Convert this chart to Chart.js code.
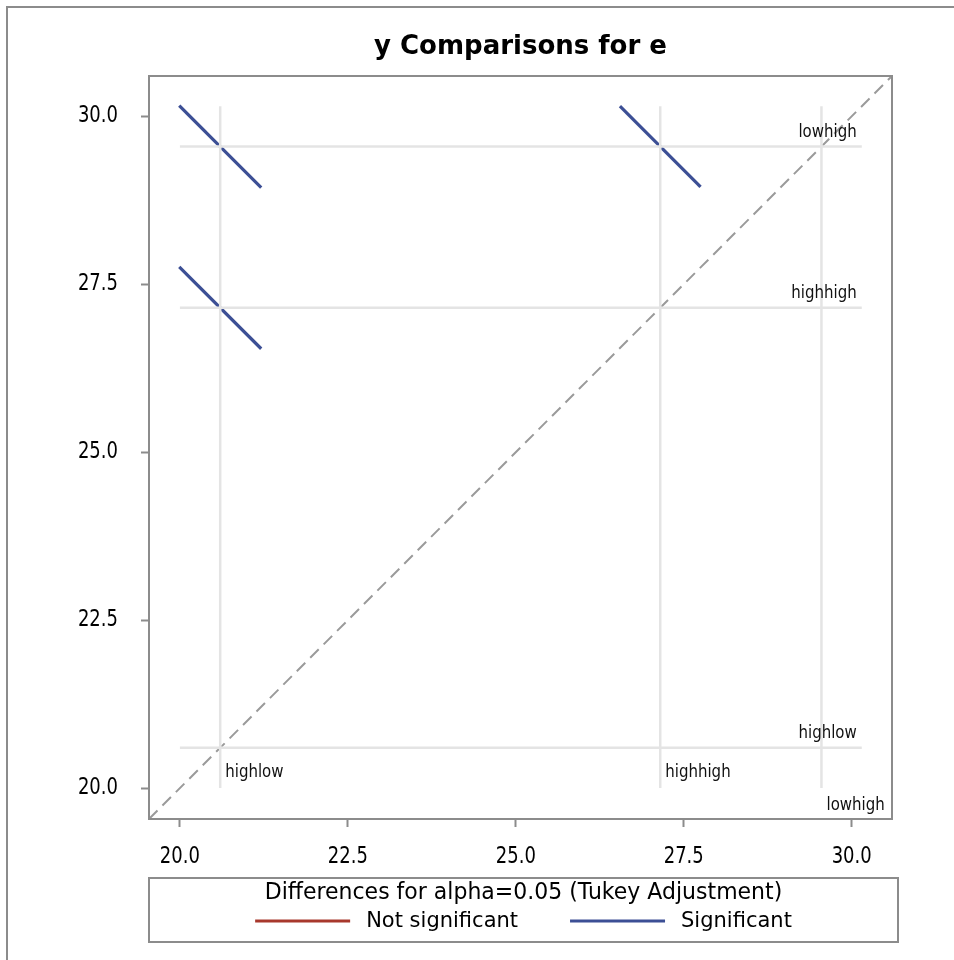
<!DOCTYPE html>
<html>
<head>
<meta charset="utf-8">
<script src="https://cdn.jsdelivr.net/npm/chart.js@4/dist/chart.umd.min.js"></script>
<style>
  html, body { margin: 0; padding: 0; background: #fff; }
  #wrap { width: 954px; height: 960px; position: relative; }
</style>
</head>
<body>
<div id="wrap"><canvas id="diffogram"></canvas></div>
<script>
// Levels of factor e and their LS-means of y
const levels = ['highlow', 'highhigh', 'lowhigh'];
const levelMeans = [20.6, 27.15, 29.55];

// Pairwise comparisons: x level, y level, half-length of the CI segment, significance
const pairX = [0, 0, 1];
const pairY = [2, 1, 2];
const pairHalf = [0.61, 0.61, 0.60];
const pairSignificant = [true, true, true];

// Axis ticks and ranges (same range on both axes)
const tickValues = [20.0, 22.5, 25.0, 27.5, 30.0];
const axisRange = [19.54, 30.6];
const refRange = [20.0, 30.15];

// Legend entries
const legendTitle = 'Differences for alpha=0.05 (Tukey Adjustment)';
const legendLabels = ['Not significant', 'Significant'];

const COLOR_SIG = '#3c4f95';
const COLOR_NONSIG = '#a8382d';
const COLOR_REF = '#e4e4e4';
const COLOR_FRAME = '#8c8c8c';
const FONT = "'DejaVu Sans', sans-serif";

const datasets = [];

// light reference lines at each level mean
levelMeans.forEach((m) => {
  datasets.push({
    data: [{ x: m, y: refRange[0] }, { x: m, y: refRange[1] }],
    borderColor: COLOR_REF, borderWidth: 2.5, showLine: true, pointRadius: 0, legendEntry: false
  });
  datasets.push({
    data: [{ x: refRange[0], y: m }, { x: refRange[1], y: m }],
    borderColor: COLOR_REF, borderWidth: 2.5, showLine: true, pointRadius: 0, legendEntry: false
  });
});

// y = x diagonal
datasets.push({
  data: [{ x: axisRange[0], y: axisRange[0] }, { x: axisRange[1], y: axisRange[1] }],
  borderColor: '#9a9a9a', borderWidth: 2, borderDash: [12, 7],
  showLine: true, pointRadius: 0, legendEntry: false
});

// comparison segments centred at (mean_x, mean_y)
pairX.forEach((xi, k) => {
  const mx = levelMeans[xi], my = levelMeans[pairY[k]], h = pairHalf[k];
  datasets.push({
    data: [{ x: mx - h, y: my + h }, { x: mx + h, y: my - h }],
    borderColor: pairSignificant[k] ? COLOR_SIG : COLOR_NONSIG,
    borderWidth: 3.2, showLine: true, pointRadius: 0, legendEntry: false
  });
});

// legend-only series
datasets.push({ label: legendLabels[0], data: [], borderColor: COLOR_NONSIG, borderWidth: 3, showLine: true, pointRadius: 0, legendEntry: true });
datasets.push({ label: legendLabels[1], data: [], borderColor: COLOR_SIG, borderWidth: 3, showLine: true, pointRadius: 0, legendEntry: true });

const labelStagger = [0, 0, 33];

// text drawn slightly tall, like the rest of the graph's lettering
function tallText(ctx, text, x, y, align, stretch) {
  ctx.save();
  ctx.translate(x, y);
  ctx.scale(1, stretch);
  ctx.textAlign = align;
  ctx.textBaseline = 'middle';
  ctx.fillText(text, 0, 0);
  ctx.restore();
}

const decor = {
  id: 'decor',
  beforeDraw(chart) {
    const ctx = chart.ctx;
    ctx.save();
    ctx.fillStyle = '#fff';
    ctx.fillRect(0, 0, chart.width, chart.height);
    ctx.strokeStyle = COLOR_FRAME;
    ctx.lineWidth = 2;
    ctx.strokeRect(7, 7, chart.width + 20, chart.height + 20);
    ctx.restore();
  },
  afterDraw(chart) {
    const ctx = chart.ctx;
    const a = chart.chartArea;
    const xs = chart.scales.x, ys = chart.scales.y;
    ctx.save();

    // plot frame
    ctx.strokeStyle = COLOR_FRAME;
    ctx.lineWidth = 2;
    ctx.strokeRect(a.left, a.top, a.right - a.left, a.bottom - a.top);

    // title
    ctx.fillStyle = '#000';
    ctx.font = 'bold 26px ' + FONT;
    tallText(ctx, 'y Comparisons for e', (a.left + a.right) / 2, 47, 'center', 1.0);

    // tick labels
    ctx.font = '18px ' + FONT;
    xs.ticks.forEach(t => {
      tallText(ctx, t.value.toFixed(1), xs.getPixelForValue(t.value), a.bottom + 38, 'center', 1.25);
    });
    ys.ticks.forEach(t => {
      tallText(ctx, t.value.toFixed(1), a.left - 31, ys.getPixelForValue(t.value), 'right', 1.25);
    });

    // level labels
    ctx.font = '15px ' + FONT;
    ctx.fillStyle = '#111';
    levelMeans.forEach((m, i) => {
      tallText(ctx, levels[i], xs.getPixelForValue(refRange[1]) - 5, ys.getPixelForValue(m) - 14, 'right', 1.15);
      tallText(ctx, levels[i], xs.getPixelForValue(m) + 5, ys.getPixelForValue(refRange[0]) - 16 + labelStagger[i], 'left', 1.15);
    });

    // legend box
    const lx0 = a.left, lx1 = a.right + 6, ly0 = 878, ly1 = 942;
    ctx.strokeStyle = COLOR_FRAME;
    ctx.lineWidth = 2;
    ctx.strokeRect(lx0, ly0, lx1 - lx0, ly1 - ly0);
    ctx.fillStyle = '#000';
    ctx.font = '22px ' + FONT;
    tallText(ctx, legendTitle, (lx0 + lx1) / 2, 893, 'center', 1.05);

    ctx.font = '21px ' + FONT;
    const entries = chart.data.datasets.filter(d => d.legendEntry);
    const lineLen = 95, gapText = 16, gapItem = 52;
    const widths = entries.map(e => lineLen + gapText + ctx.measureText(e.label).width);
    const total = widths.reduce((s, w) => s + w, 0) + gapItem * (entries.length - 1);
    let x = (lx0 + lx1) / 2 - total / 2;
    const iy = 921;
    entries.forEach((e, i) => {
      ctx.strokeStyle = e.borderColor;
      ctx.lineWidth = 3;
      ctx.beginPath();
      ctx.moveTo(x, iy);
      ctx.lineTo(x + lineLen, iy);
      ctx.stroke();
      ctx.fillStyle = '#000';
      tallText(ctx, e.label, x + lineLen + gapText, iy, 'left', 1.05);
      x += widths[i] + gapItem;
    });
    ctx.restore();
  }
};

new Chart(document.getElementById('diffogram'), {
  type: 'scatter',
  data: { datasets },
  options: {
    responsive: true,
    maintainAspectRatio: false,
    animation: false,
    layout: { padding: { left: 0, top: 76, right: 62, bottom: 91 } },
    plugins: { legend: { display: false }, title: { display: false }, tooltip: { enabled: false } },
    scales: {
      x: {
        type: 'linear',
        min: axisRange[0], max: axisRange[1],
        border: { display: false },
        grid: { display: true, drawOnChartArea: false, drawTicks: true, tickLength: 8, tickColor: COLOR_FRAME, tickWidth: 2 },
        ticks: { display: false },
        afterBuildTicks: (s) => { s.ticks = tickValues.map(v => ({ value: v })); },
        afterFit: (s) => { s.height = 50; }
      },
      y: {
        type: 'linear',
        min: axisRange[0], max: axisRange[1],
        border: { display: false },
        grid: { display: true, drawOnChartArea: false, drawTicks: true, tickLength: 8, tickColor: COLOR_FRAME, tickWidth: 2 },
        ticks: { display: false },
        afterBuildTicks: (s) => { s.ticks = tickValues.map(v => ({ value: v })); },
        afterFit: (s) => { s.width = 149; }
      }
    }
  },
  plugins: [decor]
});
</script>
</body>
</html>
